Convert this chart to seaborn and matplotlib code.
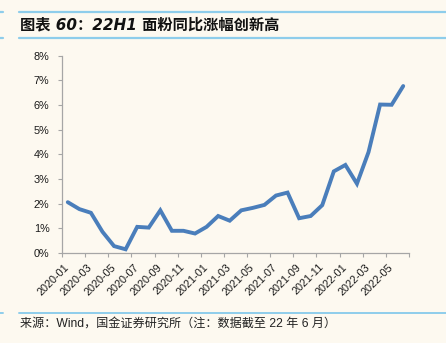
import matplotlib
matplotlib.use("Agg")
import matplotlib.pyplot as plt
from matplotlib.lines import Line2D
import numpy as np
import pandas as pd
import seaborn as sns

# Monthly year-on-year change of flour prices, Jan 2020 - Jun 2022 (%)
months = [
    "2020-01", "2020-02", "2020-03", "2020-04", "2020-05", "2020-06",
    "2020-07", "2020-08", "2020-09", "2020-10", "2020-11", "2020-12",
    "2021-01", "2021-02", "2021-03", "2021-04", "2021-05", "2021-06",
    "2021-07", "2021-08", "2021-09", "2021-10", "2021-11", "2021-12",
    "2022-01", "2022-02", "2022-03", "2022-04", "2022-05", "2022-06",
]
yoy = [
    2.06, 1.78, 1.63, 0.86, 0.28, 0.15,
    1.06, 1.03, 1.73, 0.90, 0.90, 0.79,
    1.06, 1.50, 1.31, 1.73, 1.83, 1.95,
    2.33, 2.45, 1.41, 1.50, 1.94, 3.31,
    3.57, 2.81, 4.09, 6.02, 6.01, 6.77,
]
y_ticks = [0, 1, 2, 3, 4, 5, 6, 7, 8]
y_tick_labels = [f"{v}%" for v in y_ticks]
title = "图表 60：22H1 面粉同比涨幅创新高"
source = "来源：Wind，国金证券研究所（注：数据截至 22 年 6 月）"

BG = "#FDF9F0"
LINE = "#4A7EBB"
RULE = "#8ECDEB"
SPINE = "#A6A6A6"

sns.set_theme(style="white")
plt.rcParams["font.family"] = ["Liberation Sans", "Noto Sans CJK SC", "DejaVu Sans"]

df = pd.DataFrame({"pos": np.arange(len(months)), "month": months, "yoy": yoy})

fig = plt.figure(figsize=(4.46, 3.43), dpi=100, facecolor=BG)
ax = fig.add_axes([62 / 446, 1 - 253 / 343, (409 - 62) / 446, (253 - 55.7) / 343])
ax.set_facecolor(BG)

sns.lineplot(data=df, x="pos", y="yoy", ax=ax, color=LINE, linewidth=2.8,
             solid_joinstyle="miter", legend=False)

ax.set_xlim(-0.5, len(months) - 0.5)
ax.set_ylim(0, 8)
ax.set_xlabel("")
ax.set_ylabel("")

# y axis
ax.set_yticks(y_ticks)
ax.set_yticklabels(y_tick_labels)
ax.tick_params(axis="y", which="major", left=True, length=3, width=0.8,
               color=SPINE, pad=6, labelsize=7.8, labelcolor="#1a1a1a")

# x axis: boundary ticks every two months, labels at category centres
ax.set_xticks(np.arange(-0.5, len(months), 2))
ax.set_xticklabels([])
ax.tick_params(axis="x", which="major", bottom=True, length=3, width=0.8, color=SPINE)
label_pos = df["pos"][::2]
ax.set_xticks(label_pos, minor=True)
ax.set_xticklabels(df["month"][::2], minor=True, rotation=45, ha="right",
                   va="center", rotation_mode="anchor")
ax.tick_params(axis="x", which="minor", bottom=True, length=0, pad=9,
               labelsize=7.8, labelcolor="#1a1a1a")

for side in ("top", "right"):
    ax.spines[side].set_visible(False)
for side in ("left", "bottom"):
    ax.spines[side].set_color(SPINE)
    ax.spines[side].set_linewidth(0.9)
ax.grid(False)

# title block with rules above and below
for yy in (1 - 11.5 / 343, 1 - 38 / 343):
    fig.add_artist(Line2D([19 / 446, 1], [yy, yy], color=RULE, lw=1.6,
                          transform=fig.transFigure))
    fig.add_artist(Line2D([0, 3 / 446], [yy, yy], color=RULE, lw=1.6,
                          transform=fig.transFigure))
fig.text(20 / 446, 1 - 25 / 343, title, fontsize=11, fontweight="bold",
         style="italic", color="#111111", va="center", ha="left",
         family=["DejaVu Sans", "Noto Sans CJK SC"])

# source footer
yy = 1 - 312.5 / 343
fig.add_artist(Line2D([19 / 446, 1], [yy, yy], color=RULE, lw=1.4,
                      transform=fig.transFigure))
fig.add_artist(Line2D([0, 3 / 446], [yy, yy], color=RULE, lw=1.4,
                      transform=fig.transFigure))
fig.text(20 / 446, 1 - 324 / 343, source, fontsize=8.7, color="#222222",
         va="center", ha="left", family=["Liberation Sans", "Noto Sans CJK SC"])

fig.savefig("out.png", dpi=100, facecolor=BG)
